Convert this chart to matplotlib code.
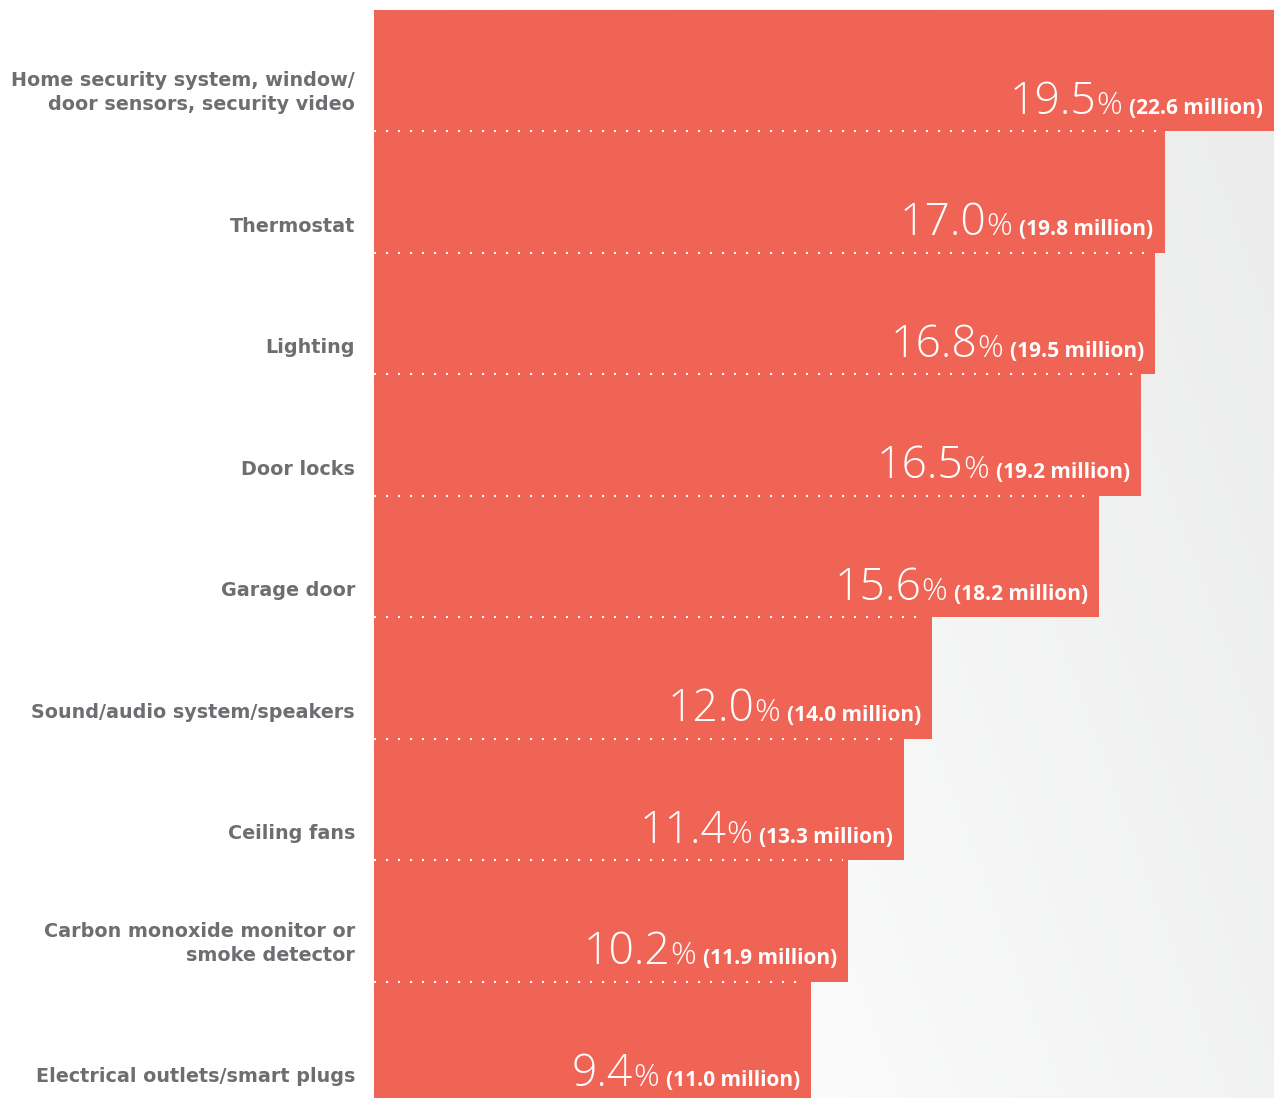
import numpy as np
import matplotlib
matplotlib.use("Agg")
import matplotlib.pyplot as plt

categories = [
    "Home security system, window/\ndoor sensors, security video",
    "Thermostat",
    "Lighting",
    "Door locks",
    "Garage door",
    "Sound/audio system/speakers",
    "Ceiling fans",
    "Carbon monoxide monitor or\nsmoke detector",
    "Electrical outlets/smart plugs",
]
percent = [19.5, 17.0, 16.8, 16.5, 15.6, 12.0, 11.4, 10.2, 9.4]
millions = [22.6, 19.8, 19.5, 19.2, 18.2, 14.0, 13.3, 11.9, 11.0]

BAR = "#F06455"
GRAY = "#6D6E71"

W, H = 1274, 1098
DPI = 100
fig = plt.figure(figsize=(W / DPI, H / DPI), dpi=DPI)
fig.patch.set_facecolor("white")
ax = fig.add_axes([0, 0, 1, 1])
ax.set_axis_off()

# pixel mapping
x0_px = 374.0
px_per_unit = 46.5
top_px = 10.0
row_px = 121.5
xmin = -x0_px / px_per_unit
xmax = (W - x0_px) / px_per_unit
ytop = -0.5 - top_px / row_px
ybot = -0.5 + (H - top_px) / row_px
ax.set_xlim(xmin, xmax)
ax.set_ylim(ybot, ytop)

# background gradient (right side shading)
nx, ny = 300, 300
gx = np.linspace(0, 1, nx)
gy = np.linspace(0, 1, ny)
GX, GY = np.meshgrid(gx, gy)
t = np.clip(GX * 0.9 + (1 - GY) * 0.4 - 0.2, 0, 1)
g = (255 - 19 * t) / 255.0
img = np.dstack([g, g + 0.003 * t, g + 0.003 * t])
img = np.clip(img, 0, 1)
ax.imshow(img, extent=(0, xmax, ybot, -0.5), origin="upper", aspect="auto",
          zorder=0, interpolation="bilinear")

y = np.arange(len(categories))
ax.barh(y, percent, height=1.0, color=BAR, edgecolor="none", zorder=2)

# dotted separators
for i in range(len(categories) - 1):
    ax.hlines(i + 0.5, 0, percent[i + 1] - 0.12, colors="white",
              linestyles=[(0, (1, 4.76))], linewidth=1.5, zorder=3,
              capstyle="butt")

# category labels
for i, lab in enumerate(categories):
    lines = lab.split("\n")
    for k, line in enumerate(reversed(lines)):
        ax.annotate(line, xy=(0, i + 0.5), xycoords="data",
                    textcoords="offset pixels",
                    xytext=(-19, 21 + 24 * k),
                    ha="right", va="baseline", color=GRAY,
                    fontsize=13.8, fontweight="bold", family="DejaVu Sans",
                    zorder=4, annotation_clip=False)

# value labels
for i, (p, m) in enumerate(zip(percent, millions)):
    right = min(p, xmax)
    t1 = ax.annotate(f"({m:.1f} million)", xy=(right, i + 0.5), xycoords="data",
                     textcoords="offset pixels", xytext=(-11, 17.5),
                     ha="right", va="baseline", color="white",
                     fontsize=15, fontweight="bold", family="Open Sans",
                     zorder=5, annotation_clip=False)
    t2 = ax.annotate("%", xy=(0, i + 0.5), xycoords=(t1, "data"),
                     textcoords="offset pixels", xytext=(-7, 17.5),
                     ha="right", va="baseline", color="white",
                     fontsize=23, fontweight=300, family="Open Sans",
                     zorder=5, annotation_clip=False)
    ax.annotate(f"{p:.1f}", xy=(0, i + 0.5), xycoords=(t2, "data"),
                textcoords="offset pixels", xytext=(0, 17.5),
                ha="right", va="baseline", color="white",
                fontsize=32, fontweight=300, family="Open Sans",
                zorder=5, annotation_clip=False)

fig.savefig("out.png", dpi=DPI, facecolor="white")
